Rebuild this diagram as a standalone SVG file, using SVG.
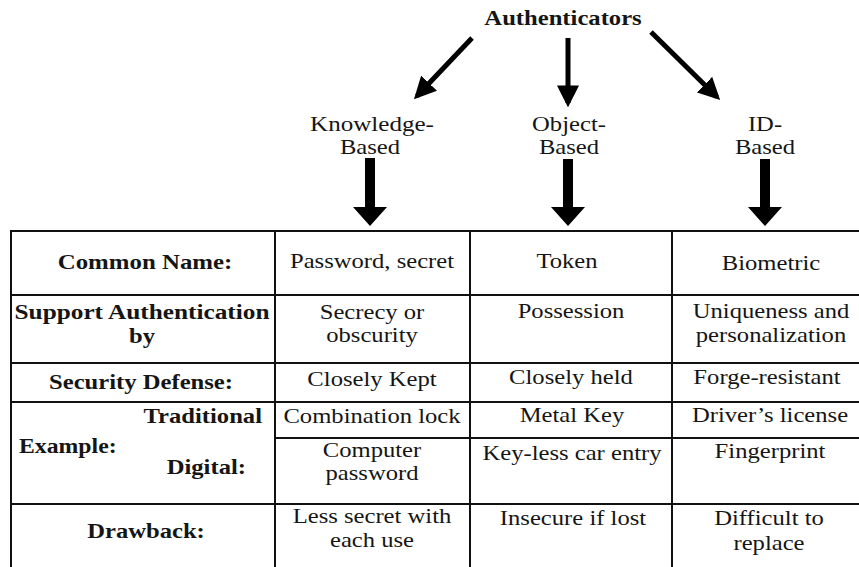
<svg xmlns="http://www.w3.org/2000/svg" width="859" height="567" viewBox="0 0 859 567">
  <defs>
    <style>
      text { font-family: "Liberation Serif", "Times New Roman", serif; font-size: 22px; fill: #151515; text-anchor: middle; }
      .b { font-weight: bold; }
      .r { text-anchor: end; }
      .l { text-anchor: start; }
      .grid { stroke: #111; stroke-width: 2; fill: none; }
      .thin { stroke: #000; stroke-width: 5; fill: none; }
      .fat { fill: #000; }
    </style>
    <marker id="head" viewBox="0 0 10 10" refX="8" refY="5" markerWidth="4.4" markerHeight="4.4" orient="auto">
      <path d="M0,0 L10,5 L0,10 z" fill="#000"/>
    </marker>
  </defs>

  <rect width="859" height="567" fill="#fff"/>

  <!-- root label -->
  <g id="authenticators">
    <text class="b" transform="translate(563,25) scale(1.12,1)">Authenticators</text>
  </g>

  <!-- category labels -->
  <g id="knowledge">
    <text transform="translate(372,131) scale(1.14,1)">Knowledge-</text>
    <text transform="translate(370,154) scale(1.12,1)">Based</text>
  </g>
  <g id="object">
    <text transform="translate(569,131) scale(1.12,1)">Object-</text>
    <text transform="translate(569,154) scale(1.12,1)">Based</text>
  </g>
  <g id="id-based">
    <text transform="translate(765,131) scale(1.12,1)">ID-</text>
    <text transform="translate(765,154) scale(1.12,1)">Based</text>
  </g>

  <!-- connectors -->
  <g id="connectors">
    <line class="thin" x1="472" y1="38" x2="417" y2="96" marker-end="url(#head)"/>
    <line class="thin" x1="568" y1="38" x2="568" y2="103" marker-end="url(#head)"/>
    <line class="thin" x1="651" y1="32" x2="717" y2="97" marker-end="url(#head)"/>
    <path class="fat" d="M365,158 h10 v49 h12 l-17,19 l-17,-19 h12 z"/>
    <path class="fat" d="M563,159 h10 v48 h12 l-17,19 l-17,-19 h12 z"/>
    <path class="fat" d="M760,159 h10 v48 h12 l-17,19 l-17,-19 h12 z"/>
  </g>

  <!-- table grid -->
  <g id="table">
    <line class="grid" x1="11" y1="231" x2="859" y2="231"/>
    <line class="grid" x1="11" y1="295" x2="859" y2="295"/>
    <line class="grid" x1="11" y1="363" x2="859" y2="363"/>
    <line class="grid" x1="11" y1="402" x2="859" y2="402"/>
    <line class="grid" x1="275" y1="438" x2="859" y2="438"/>
    <line class="grid" x1="11" y1="504" x2="859" y2="504"/>
    <line class="grid" x1="11" y1="230" x2="11" y2="567"/>
    <line class="grid" x1="275" y1="230" x2="275" y2="567"/>
    <line class="grid" x1="470" y1="230" x2="470" y2="567"/>
    <line class="grid" x1="672" y1="230" x2="672" y2="567"/>
  </g>

  <!-- row headers -->
  <g id="row-headers">
    <text class="b" transform="translate(145,269) scale(1.13,1)">Common Name:</text>
    <text class="b" transform="translate(142,319) scale(1.15,1)">Support Authentication</text>
    <text class="b" transform="translate(142,343) scale(1.12,1)">by</text>
    <text class="b" transform="translate(141,389) scale(1.12,1)">Security Defense:</text>
    <text class="b r" transform="translate(262,423) scale(1.12,1)">Traditional</text>
    <text class="b l" transform="translate(19,453) scale(1.08,1)">Example:</text>
    <text class="b r" transform="translate(246,474) scale(1.12,1)">Digital:</text>
    <text class="b" transform="translate(146,538) scale(1.12,1)">Drawback:</text>
  </g>

  <!-- knowledge-based column -->
  <g id="col-knowledge">
    <text transform="translate(372,268) scale(1.12,1)">Password, secret</text>
    <text transform="translate(372,319) scale(1.12,1)">Secrecy or</text>
    <text transform="translate(372,342) scale(1.12,1)">obscurity</text>
    <text transform="translate(372,386) scale(1.12,1)">Closely Kept</text>
    <text transform="translate(372,423) scale(1.12,1)">Combination lock</text>
    <text transform="translate(372,457) scale(1.12,1)">Computer</text>
    <text transform="translate(372,480) scale(1.12,1)">password</text>
    <text transform="translate(372,523) scale(1.12,1)">Less secret with</text>
    <text transform="translate(372,547) scale(1.12,1)">each use</text>
  </g>

  <!-- object-based column -->
  <g id="col-object">
    <text transform="translate(567,268) scale(1.12,1)">Token</text>
    <text transform="translate(571,318) scale(1.12,1)">Possession</text>
    <text transform="translate(571,384) scale(1.12,1)">Closely held</text>
    <text transform="translate(572,422) scale(1.12,1)">Metal Key</text>
    <text transform="translate(572,460) scale(1.12,1)">Key-less car entry</text>
    <text transform="translate(573,525) scale(1.12,1)">Insecure if lost</text>
  </g>

  <!-- id-based column -->
  <g id="col-id">
    <text transform="translate(771,270) scale(1.12,1)">Biometric</text>
    <text transform="translate(771,318) scale(1.12,1)">Uniqueness and</text>
    <text transform="translate(771,342) scale(1.12,1)">personalization</text>
    <text transform="translate(767,384) scale(1.12,1)">Forge-resistant</text>
    <text transform="translate(770,422) scale(1.12,1)">Driver’s license</text>
    <text transform="translate(770,458) scale(1.12,1)">Fingerprint</text>
    <text transform="translate(769,525) scale(1.12,1)">Difficult to</text>
    <text transform="translate(769,550) scale(1.12,1)">replace</text>
  </g>
</svg>
